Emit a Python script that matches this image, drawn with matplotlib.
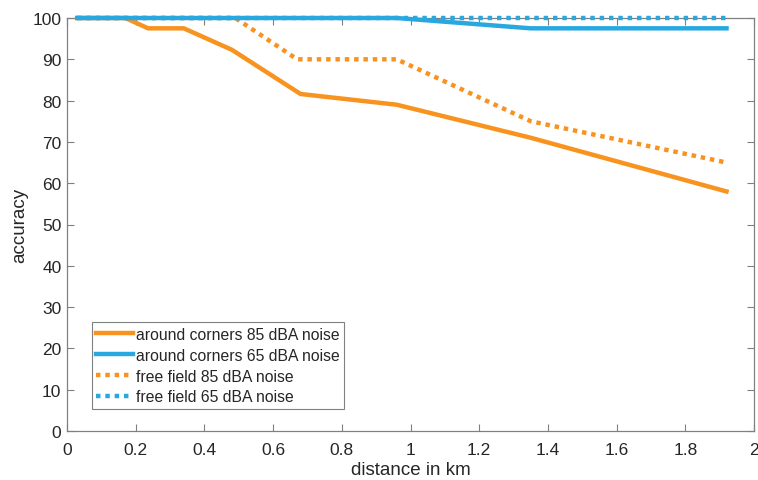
import matplotlib.pyplot as plt

plt.rcParams["font.family"] = ["Liberation Sans", "DejaVu Sans"]

# distances (km) and accuracy (%)
corners_85_x = [0.03, 0.17, 0.236, 0.34, 0.48, 0.68, 0.96, 1.35, 1.92]
corners_85_y = [100, 100, 97.5, 97.5, 92.3, 81.6, 79.0, 71.0, 58.0]

corners_65_x = [0.03, 0.96, 1.35, 1.92]
corners_65_y = [100, 100, 97.5, 97.5]

free_85_x = [0.03, 0.49, 0.67, 0.96, 1.35, 1.92]
free_85_y = [100, 100, 90, 90, 75, 65]

free_65_x = [0.03, 1.92]
free_65_y = [100, 100]

orange = "#F7931E"
blue = "#29A8E0"
axis_gray = "#808080"
text_gray = "#262626"
dots = (0, (1, 1.1))

fig = plt.figure(figsize=(7.58, 4.81), dpi=100)
ax = fig.add_axes([67 / 758, 1 - 432 / 481, (754 - 67) / 758, (432 - 19) / 481])

# blue lines sit on top of the orange ones where they overlap at 100
ax.plot(corners_85_x, corners_85_y, color=orange, linewidth=3.2, label="around corners 85 dBA noise",
        clip_on=False, zorder=2)
ax.plot(corners_65_x, corners_65_y, color=blue, linewidth=3.2, label="around corners 65 dBA noise",
        clip_on=False, zorder=4)
ax.plot(free_85_x, free_85_y, color=orange, linewidth=3.2, linestyle=dots,
        label="free field 85 dBA noise", clip_on=False, zorder=3)
ax.plot(free_65_x, free_65_y, color=blue, linewidth=3.2, linestyle=dots,
        label="free field 65 dBA noise", clip_on=False, zorder=5)

ax.set_xlim(0, 2)
ax.set_ylim(0, 100)
ax.set_xticks([0, 0.2, 0.4, 0.6, 0.8, 1, 1.2, 1.4, 1.6, 1.8, 2])
ax.set_xticklabels(["0", "0.2", "0.4", "0.6", "0.8", "1", "1.2", "1.4", "1.6", "1.8", "2"])
ax.set_yticks(range(0, 101, 10))

ax.tick_params(direction="in", top=True, right=True, length=5, width=0.8,
               color=axis_gray, labelcolor=text_gray, labelsize=12.5)
ax.tick_params(axis="x", pad=8)
ax.tick_params(axis="y", pad=4)
for spine in ax.spines.values():
    spine.set_color(axis_gray)
    spine.set_linewidth(0.9)

ax.set_xlabel("distance in km", fontsize=13.5, color=text_gray, labelpad=2.5)
ax.set_ylabel("accuracy", fontsize=13.5, color=text_gray, labelpad=3)

leg = ax.legend(loc="lower left", bbox_to_anchor=(0.036, 0.053), fontsize=11.3,
                handlelength=2.3, handletextpad=0.2, borderpad=0.3, labelspacing=0.37,
                fancybox=False, framealpha=1, edgecolor=axis_gray, borderaxespad=0)
leg.get_frame().set_linewidth(0.8)
for t in leg.get_texts():
    t.set_color(text_gray)

fig.savefig("out.png", dpi=100)
